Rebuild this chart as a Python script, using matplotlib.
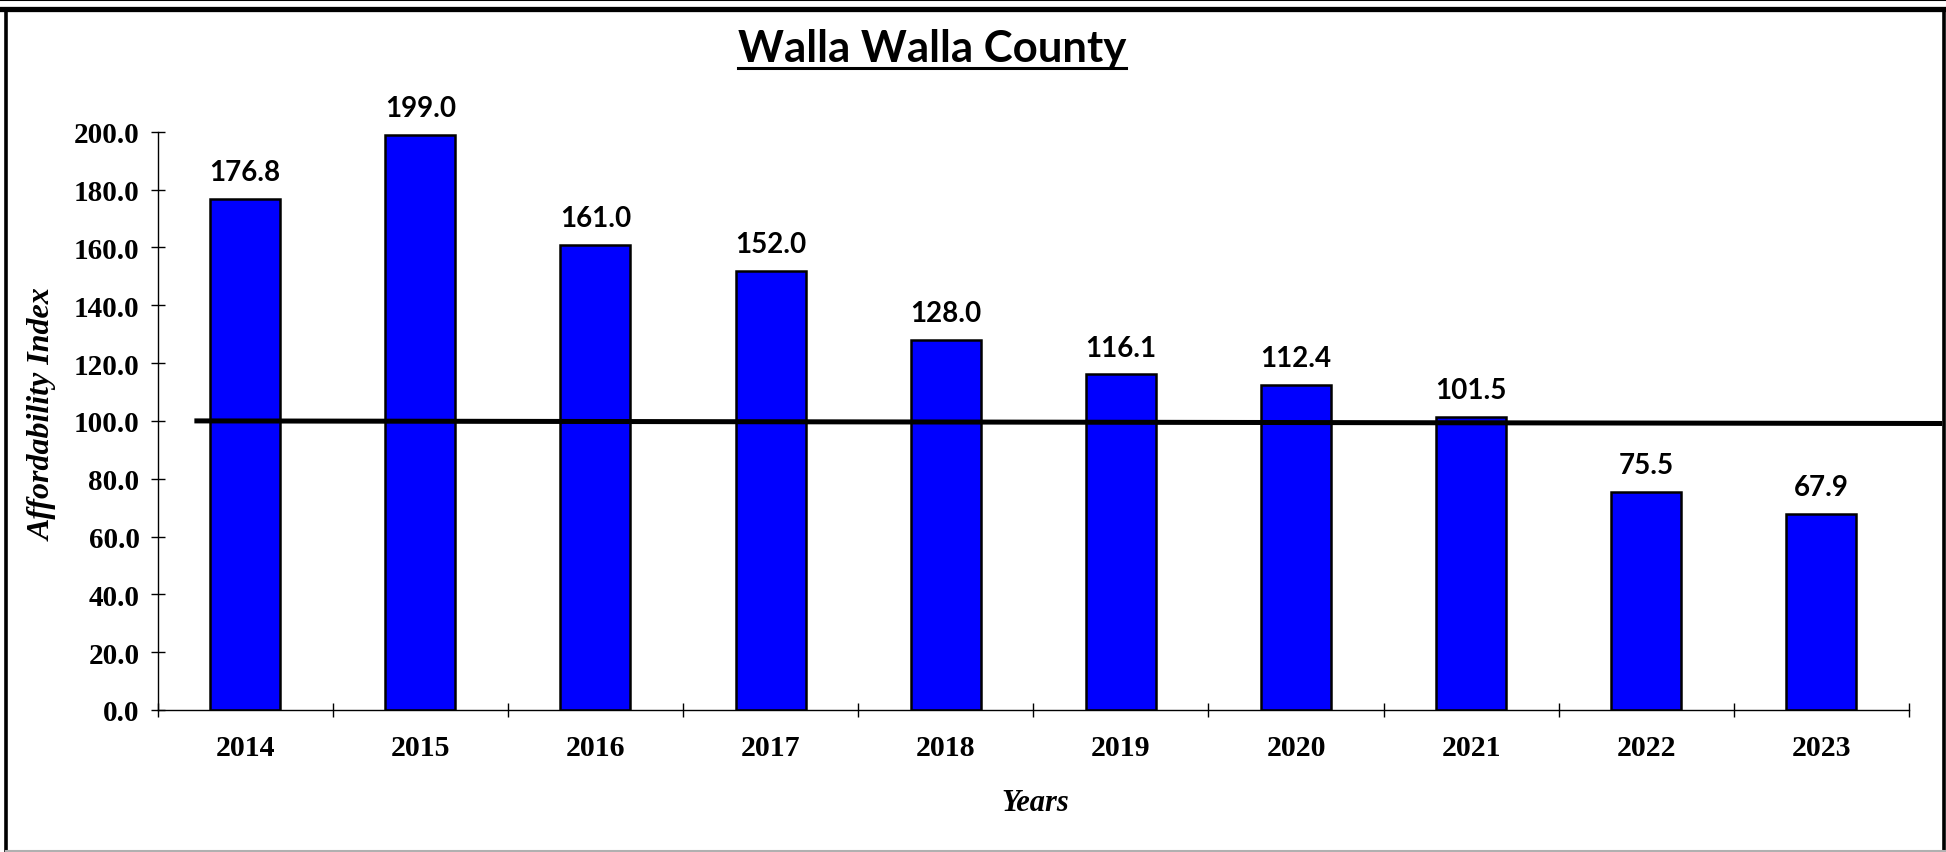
import numpy as np
import matplotlib.pyplot as plt
from matplotlib.lines import Line2D

## Data
years = ["2014", "2015", "2016", "2017", "2018", "2019", "2020", "2021", "2022", "2023"]
index_values = [176.8, 199.0, 161.0, 152.0, 128.0, 116.1, 112.4, 101.5, 75.5, 67.9]
y_ticks = [0, 20, 40, 60, 80, 100, 120, 140, 160, 180, 200]
ref_level = [100.0, 99.1]   # hand drawn "100" line, slightly off level at the right end

W, H = 1946, 853
fig = plt.figure(figsize=(W / 100, H / 100), dpi=100)
fig.patch.set_facecolor("white")

# Axes placed to match the original layout ----------------------------------
ax_left, ax_right = 157.6, 1909.0
ax_top, ax_bottom = 132.8, 711.0
ax = fig.add_axes([ax_left / W, 1 - ax_bottom / H,
                   (ax_right - ax_left) / W, (ax_bottom - ax_top) / H])

x = np.arange(len(years))
ax.bar(x, index_values, width=0.4, color="#0000FF", edgecolor="black",
       linewidth=1.8, zorder=2)

# Data labels ----------------------------------
for xi, v in zip(x, index_values):
    ax.annotate(f"{v:.1f}", (xi, v), xytext=(0, 13.5), textcoords="offset points",
                ha="center", va="baseline", fontsize=20, fontweight="bold",
                family="Lato", annotation_clip=False)

# Reference line at 100 ----------------------------------
ax.plot([x[0] - 0.29, x[-1] + 0.69], ref_level, color="black", linewidth=3.6,
        solid_capstyle="butt", clip_on=False, zorder=3)

# Axes styling ----------------------------------
ax.set_xlim(-0.5, len(years) - 0.5)
ax.set_ylim(0, 200)
for side in ("top", "right"):
    ax.spines[side].set_visible(False)
for side in ("left", "bottom"):
    ax.spines[side].set_linewidth(1.0)

ax.set_yticks(y_ticks)
ax.set_yticklabels([f"{t:.1f}" for t in y_ticks], family="Liberation Serif",
                   fontweight="bold", fontsize=21)
ax.tick_params(axis="y", direction="inout", length=10, width=1.0, pad=8)

ax.set_xticks(np.arange(-0.5, len(years), 1))
ax.set_xticklabels([])
ax.tick_params(axis="x", which="major", direction="inout", length=10, width=1.0)
ax.set_xticks(x, labels=years, minor=True)
ax.tick_params(axis="x", which="minor", length=0, pad=17)
for lab in ax.get_xticklabels(minor=True):
    lab.set_family("Liberation Serif")
    lab.set_fontweight("bold")
    lab.set_fontsize(21.5)

ax.set_ylabel("Affordability Index", family="Liberation Serif", style="italic",
              fontweight="bold", fontsize=23)
ax.yaxis.set_label_coords((43 - ax_left) / (ax_right - ax_left), 0.513)
ax.yaxis.label.set_va("center")
ax.set_xlabel("Years", family="Liberation Serif", style="italic",
              fontweight="bold", fontsize=22)
ax.xaxis.set_label_coords((1035 - ax_left) / (ax_right - ax_left),
                          -(804 - ax_bottom) / (ax_bottom - ax_top))
ax.xaxis.label.set_va("center")

# Title with underline ----------------------------------
title = fig.text(932 / W, 1 - 62 / H, "Walla Walla County", ha="center",
                 va="baseline", fontsize=31.5, fontweight="bold", family="Lato")
fig.canvas.draw()
bb = title.get_window_extent()
uy = (H - 69) / H
fig.add_artist(Line2D([bb.x0 / W, bb.x1 / W], [uy, uy], color="black",
                      linewidth=2.2, transform=fig.transFigure))

# Chart frame ----------------------------------
frame = [
    ([0, 1], [1 - 1 / H, 1 - 1 / H], "black", 1.5),
    ([0, 1], [1 - 9.5 / H, 1 - 9.5 / H], "black", 3.8),
    ([6 / W, 6 / W], [1.5 / H, 1 - 9.5 / H], "black", 2.6),
    ([1 - 2 / W, 1 - 2 / W], [1.5 / H, 1 - 9.5 / H], "black", 2.6),
    ([6 / W, 1], [1.5 / H, 1.5 / H], "#B0B0B0", 1.5),
]
for xs, ys, c, lw in frame:
    fig.add_artist(Line2D(xs, ys, color=c, linewidth=lw, transform=fig.transFigure))

fig.savefig("out.png", dpi=100, facecolor="white")
